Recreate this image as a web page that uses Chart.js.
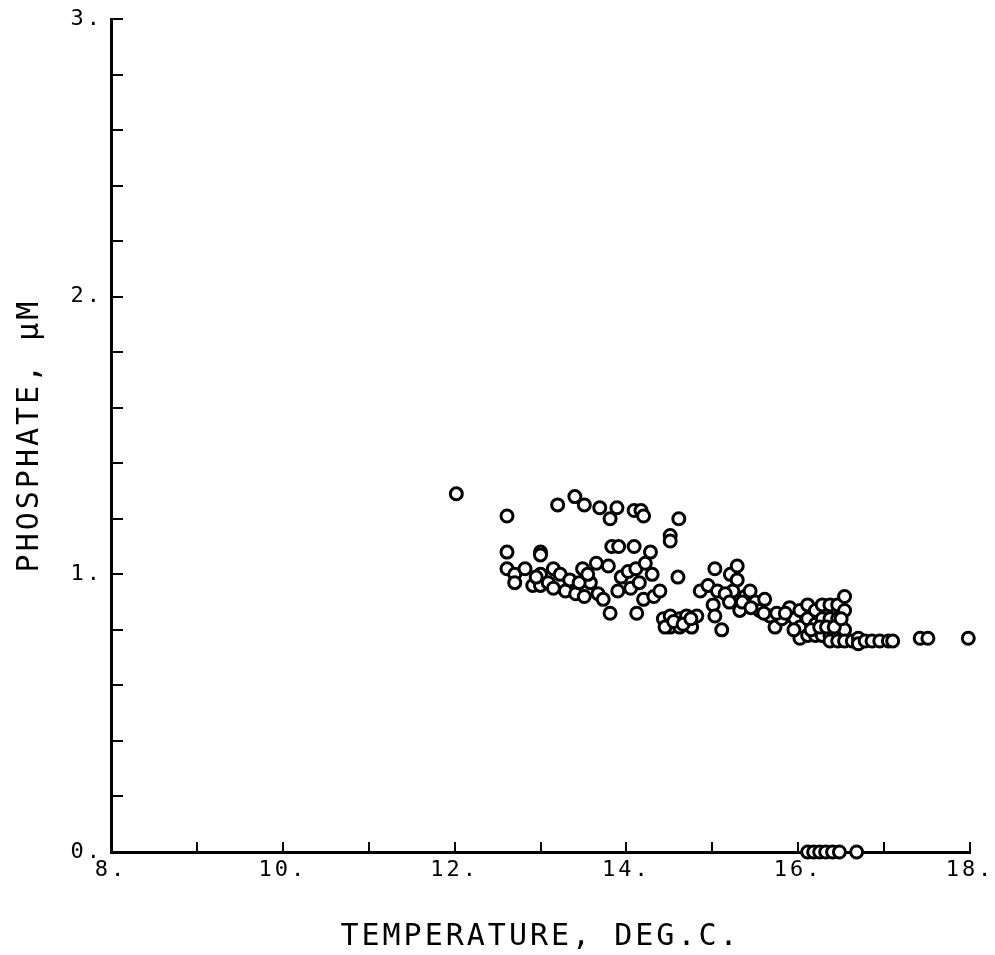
<!DOCTYPE html>
<html>
<head>
<meta charset="utf-8">
<script src="https://cdn.jsdelivr.net/npm/chart.js@4.4.0/dist/chart.umd.min.js"></script>
<style>
  html, body { margin: 0; padding: 0; background: #fff; }
  #wrap { width: 995px; height: 955px; }
</style>
</head>
<body>
<div id="wrap"><canvas id="myChart" width="995" height="955"></canvas></div>
<script>
"use strict";
// temperature (deg C) and phosphate (uM)
var temperature = [
  12.02, 12.61, 13.20, 13.40, 13.51, 13.69, 13.81, 13.89, 14.09, 14.17, 14.20, 14.61, 14.51, 14.51,
  12.61, 13.00, 13.00, 12.61, 12.70, 12.70, 12.82, 12.91, 13.00, 13.00, 13.09, 13.15, 13.23, 13.29,
  13.34, 13.41, 13.49, 13.51, 13.58, 13.65, 13.67, 13.73, 13.79, 13.81, 13.83, 13.91, 13.94, 13.90,
  14.02, 14.09, 14.11, 14.12, 14.20, 14.22, 14.28, 14.30, 14.32, 14.39, 14.43, 14.51, 14.51, 14.60,
  14.62, 14.62, 14.70, 14.76, 14.82, 14.86, 14.95, 15.01, 15.03, 15.06, 15.03, 15.11, 15.21, 15.24,
  15.29, 15.29, 15.32, 15.38, 15.44, 15.50, 15.55, 15.61, 15.67, 15.73, 15.81, 15.90, 15.96, 16.02,
  16.02, 16.02, 16.11, 16.11, 16.11, 16.20, 16.20, 16.20, 16.28, 16.28, 16.28, 16.37, 16.37, 16.37,
  16.37, 16.46, 16.46, 16.46, 16.54, 16.54, 16.54, 16.54, 16.63, 16.70, 16.70, 16.78, 16.86, 16.95,
  17.05, 17.10, 17.42, 17.51, 17.98,
  15.35, 15.45, 15.60, 15.75, 15.85, 15.95, 16.15, 16.25, 16.33, 16.42, 16.50, 15.15, 15.20,
  13.45, 13.55, 13.15, 12.95, 14.05, 14.15, 14.45, 14.55, 14.66, 14.75,
  16.11, 16.18, 16.25, 16.32, 16.40, 16.48, 16.68
];
var phosphate = [
  1.29, 1.21, 1.25, 1.28, 1.25, 1.24, 1.20, 1.24, 1.23, 1.23, 1.21, 1.20, 1.14, 1.12,
  1.08, 1.08, 1.07, 1.02, 1.00, 0.97, 1.02, 0.96, 1.00, 0.96, 0.97, 1.02, 1.00, 0.94,
  0.98, 0.93, 1.02, 0.92, 0.97, 1.04, 0.93, 0.91, 1.03, 0.86, 1.10, 1.10, 0.99, 0.94,
  1.01, 1.10, 1.02, 0.86, 0.91, 1.04, 1.08, 1.00, 0.92, 0.94, 0.84, 0.85, 0.81, 0.99,
  0.84, 0.81, 0.85, 0.81, 0.85, 0.94, 0.96, 0.89, 1.02, 0.94, 0.85, 0.80, 1.00, 0.94,
  1.03, 0.98, 0.87, 0.92, 0.94, 0.90, 0.87, 0.91, 0.85, 0.81, 0.84, 0.88, 0.84, 0.87,
  0.81, 0.77, 0.89, 0.84, 0.78, 0.87, 0.82, 0.78, 0.89, 0.84, 0.78, 0.89, 0.84, 0.78,
  0.76, 0.89, 0.84, 0.76, 0.92, 0.87, 0.80, 0.76, 0.76, 0.77, 0.75, 0.76, 0.76, 0.76,
  0.76, 0.76, 0.77, 0.77, 0.77,
  0.90, 0.88, 0.86, 0.86, 0.86, 0.80, 0.80, 0.81, 0.81, 0.81, 0.84, 0.93, 0.90,
  0.97, 1.00, 0.95, 0.99, 0.95, 0.97, 0.81, 0.83, 0.82, 0.84,
  0, 0, 0, 0, 0, 0, 0
];
var xTitle = "TEMPERATURE, DEG.C.";
var yTitle = "PHOSPHATE, \u03bcM";

var points = temperature.map(function (t, i) {
  return { x: t, y: phosphate[i] };
});

var plotterFont = "'DejaVu Sans Mono', monospace";

// old plotter lettering is widely spaced
var spacing = {
  id: "spacing",
  beforeDraw: function (chart) {
    chart.ctx.letterSpacing = "3px";
  }
};

var ctx = document.getElementById("myChart");
var myChart = new Chart(ctx, {
  type: "scatter",
  data: {
    datasets: [
      {
        data: points,
        pointStyle: "circle",
        pointRadius: 6,
        pointBorderWidth: 3,
        borderColor: "#000",
        backgroundColor: "#fff",
        clip: false,
      },
    ],
  },
  options: {
    responsive: false,
    animation: false,
    layout: { padding: { top: 19, right: 25, left: 0, bottom: 0 } },
    plugins: { legend: { display: false }, tooltip: { enabled: false } },
    scales: {
      x: {
        type: "linear",
        min: 8,
        max: 18,
        afterFit: function (scale) {
          scale.height = 103;
          scale.paddingLeft = 0;
          scale.paddingRight = 0;
        },
        border: { display: true, color: "#000", width: 3 },
        grid: {
          drawOnChartArea: false,
          drawTicks: true,
          tickLength: -10,
          lineWidth: 2,
          color: "#000",
        },
        ticks: {
          stepSize: 1,
          autoSkip: false,
          maxRotation: 0,
          padding: 15,
          color: "#000",
          font: { family: plotterFont, size: 22 },
          callback: function (v) {
            return v % 2 === 0 ? v + "." : "";
          },
        },
        title: {
          display: true,
          text: xTitle,
          color: "#000",
          padding: { top: 0, bottom: 0 },
          font: { family: plotterFont, size: 30 },
        },
      },
      y: {
        type: "linear",
        min: 0,
        max: 3,
        afterFit: function (scale) {
          scale.width = 111;
          scale.paddingTop = 0;
          scale.paddingBottom = 0;
        },
        border: { display: true, color: "#000", width: 3 },
        grid: {
          drawOnChartArea: false,
          drawTicks: true,
          tickLength: -12,
          lineWidth: 2,
          color: "#000",
        },
        ticks: {
          stepSize: 0.2,
          autoSkip: false,
          padding: 20,
          color: "#000",
          font: { family: plotterFont, size: 22 },
          callback: function (v) {
            var r = Math.round(v);
            return Math.abs(v - r) < 1e-6 ? r + "." : "";
          },
        },
        title: {
          display: true,
          text: yTitle,
          color: "#000",
          padding: { top: 12, bottom: 0 },
          font: { family: plotterFont, size: 30 },
        },
      },
    },
  },
  plugins: [spacing],
});
</script>
</body>
</html>
